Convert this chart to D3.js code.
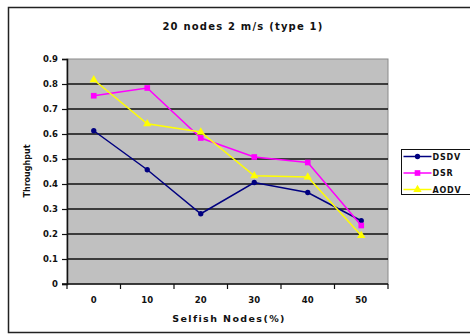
<!DOCTYPE html>
<html>
<head>
<meta charset="utf-8">
<script src="https://cdn.jsdelivr.net/npm/d3@7"></script>
<style>
  body { margin: 0; background: #fff; }
  text { font-family: "DejaVu Sans", "Liberation Sans", Arial, sans-serif; font-weight: bold; fill: #111; }
</style>
</head>
<body>
<div id="chart"></div>
<script>
// values
const categories = ["0", "10", "20", "30", "40", "50"];
const dsdv = [0.613, 0.457, 0.281, 0.406, 0.366, 0.253];
const dsr  = [0.753, 0.784, 0.584, 0.508, 0.486, 0.234];
const aodv = [0.817, 0.641, 0.608, 0.433, 0.428, 0.194];
const seriesNames = ["DSDV", "DSR", "AODV"];
const yTicks = [0, 0.1, 0.2, 0.3, 0.4, 0.5, 0.6, 0.7, 0.8, 0.9];

const width = 470, height = 335;
const margin = ({top: 59, right: 82, bottom: 51, left: 67});

const series = [
  {name: seriesNames[0], values: dsdv, color: "#000080", shape: d3.symbolCircle, size: 22},
  {name: seriesNames[1], values: dsr,  color: "#ff00ff", shape: d3.symbolSquare, size: 32},
  {name: seriesNames[2], values: aodv, color: "#ffff00", shape: d3.symbolTriangle, size: 30}
];

const svg = d3.select("#chart").append("svg")
  .attr("width", width)
  .attr("height", height);

// outer chart frame
svg.append("rect")
  .attr("x", 8.5).attr("y", 7.5)
  .attr("width", 470).attr("height", 325)
  .attr("fill", "#fff")
  .attr("stroke", "#222")
  .attr("stroke-width", 1.5);

const x = d3.scaleBand()
  .domain(categories)
  .range([margin.left, width - margin.right]);

const y = d3.scaleLinear()
  .domain([0, 0.9])
  .range([height - margin.bottom, margin.top]);

// plot area
svg.append("rect")
  .attr("x", x.range()[0]).attr("y", y(0.9))
  .attr("width", x.range()[1] - x.range()[0])
  .attr("height", y(0) - y(0.9))
  .attr("fill", "#c0c0c0")
  .attr("stroke", "#8a8a8a");

// gridlines
svg.append("g")
  .selectAll("line")
  .data(yTicks.filter(d => d > 0 && d < 0.9))
  .join("line")
    .attr("x1", x.range()[0]).attr("x2", x.range()[1])
    .attr("y1", d => y(d)).attr("y2", d => y(d))
    .attr("stroke", "#111")
    .attr("stroke-width", 1.5);

// y axis
const yAxis = svg.append("g")
  .attr("transform", `translate(${margin.left},0)`)
  .call(d3.axisLeft(y).tickValues(yTicks).tickFormat(d3.format(".1~f")).tickSize(5).tickPadding(4));
yAxis.select(".domain").attr("stroke", "#111").attr("stroke-width", 1.5);
yAxis.selectAll(".tick line").attr("stroke", "#111").attr("stroke-width", 1.2);
yAxis.selectAll("text").style("font-size", "8.5px").style("font-family", null).style("font-weight", null);
yAxis.attr("font-family", null).attr("font-size", null);

// x axis: ticks between categories
const xAxis = svg.append("g")
  .attr("transform", `translate(0,${y(0)})`);
xAxis.append("line")
  .attr("x1", x.range()[0] - 5).attr("x2", x.range()[1])
  .attr("stroke", "#111").attr("stroke-width", 1.5);
xAxis.selectAll(".sep")
  .data(categories.concat(["end"]))
  .join("line")
    .attr("class", "sep")
    .attr("x1", (d, i) => x.range()[0] + i * x.bandwidth())
    .attr("x2", (d, i) => x.range()[0] + i * x.bandwidth())
    .attr("y1", 0).attr("y2", 5)
    .attr("stroke", "#111").attr("stroke-width", 1.2);
xAxis.selectAll("text")
  .data(categories)
  .join("text")
    .attr("x", d => x(d) + x.bandwidth() / 2)
    .attr("y", 19)
    .attr("text-anchor", "middle")
    .style("font-size", "8.5px")
    .text(d => d);

// lines and markers
const line = d3.line()
  .x((d, i) => x(categories[i]) + x.bandwidth() / 2)
  .y(d => y(d));

series.forEach(s => {
  svg.append("path")
    .datum(s.values)
    .attr("fill", "none")
    .attr("stroke", s.color)
    .attr("stroke-width", 1.5)
    .attr("d", line);
  svg.append("g")
    .selectAll("path")
    .data(s.values)
    .join("path")
      .attr("transform", (d, i) => `translate(${x(categories[i]) + x.bandwidth() / 2},${y(d)})`)
      .attr("d", d3.symbol(s.shape, s.size))
      .attr("fill", s.color);
});

// title and axis labels
svg.append("text")
  .attr("x", 243).attr("y", 30)
  .attr("text-anchor", "middle")
  .style("font-size", "10px")
  .style("letter-spacing", "1.2px")
  .text("20 nodes 2 m/s (type 1)");

svg.append("text")
  .attr("x", 229).attr("y", 322)
  .attr("text-anchor", "middle")
  .style("font-size", "9.5px")
  .style("letter-spacing", "1.4px")
  .text("Selfish Nodes(%)");

svg.append("text")
  .attr("transform", "translate(30,171) rotate(-90)")
  .attr("text-anchor", "middle")
  .style("font-size", "8px")
  .text("Throughput");

// legend
const legend = svg.append("g").attr("transform", "translate(401.5,149.5)");
legend.append("rect")
  .attr("width", 80).attr("height", 45)
  .attr("fill", "#fff")
  .attr("stroke", "#111");
series.forEach((s, i) => {
  const g = legend.append("g").attr("transform", `translate(0,${7 + i * 16.5})`);
  g.append("line")
    .attr("x1", 2).attr("x2", 30)
    .attr("stroke", s.color).attr("stroke-width", 1.5);
  g.append("path")
    .attr("transform", "translate(16,0)")
    .attr("d", d3.symbol(s.shape, s.size))
    .attr("fill", s.color);
  g.append("text")
    .attr("x", 31).attr("y", 3)
    .style("font-size", "8px")
    .style("letter-spacing", "0.8px")
    .text(s.name);
});
</script>
</body>
</html>
